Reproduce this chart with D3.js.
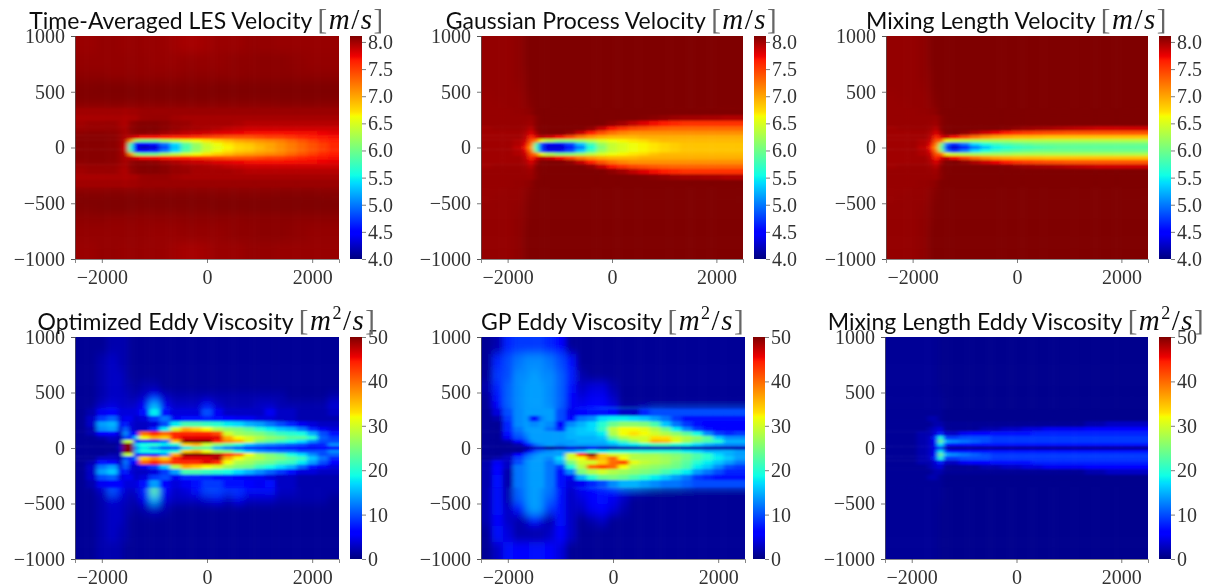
<!DOCTYPE html>
<html>
<head>
<meta charset="utf-8">
<script src="https://cdn.jsdelivr.net/npm/d3@7"></script>
<style>
    body { margin: 0; background: #fff; }
    svg { display: block; }
</style>
</head>
<body>
<div id="wrapper"></div>
<script>
// grid edges in data units, outer edges run past the axes and get clipped
const xEdges = [-2800,-2300,-2100,-1900,-1700,-1600,-1500,-1400,-1300,-1100,-900,-700,-500,-300,-100,100,300,500,700,900,1100,1300,1500,1700,1900,2100,2300,2800];
const yEdgesTop = [1300,850,700,600,500,420,350,290,240,190,150,110,75,45,15];
const yEdges = yEdgesTop.concat(yEdgesTop.slice().reverse().map(d => -d));

const xTicks = [-2000, 0, 2000];
const yTicks = [1000, 500, 0, -500, -1000];
const velocityTicks = [4.0, 4.5, 5.0, 5.5, 6.0, 6.5, 7.0, 7.5, 8.0];
const viscosityTicks = [0, 10, 20, 30, 40, 50];

// upper half only, top row first, the last row is the centre line
const lesVelocity = [
[8.02,8.02,8.04,8.04,8.03,8.03,8.03,8.04,8.03,8.03,8.02,8.0,7.98,7.98,8.0,8.02,8.02,8.02,8.04,8.04,8.04,8.03,8.03,8.03,8.03,8.03,8.03],
[8.04,8.04,8.04,8.04,8.04,8.04,8.04,8.04,8.04,8.03,8.03,8.03,8.04,8.04,8.04,8.04,8.05,8.06,8.06,8.07,8.07,8.07,8.06,8.05,8.04,8.04,8.04],
[8.06,8.06,8.06,8.05,8.05,8.05,8.05,8.05,8.05,8.05,8.05,8.05,8.06,8.06,8.06,8.06,8.06,8.06,8.07,8.07,8.07,8.07,8.07,8.06,8.06,8.06,8.06],
[8.1,8.1,8.11,8.11,8.11,8.11,8.1,8.1,8.1,8.1,8.1,8.1,8.1,8.1,8.1,8.11,8.11,8.11,8.11,8.11,8.11,8.11,8.11,8.11,8.11,8.11,8.11],
[8.11,8.11,8.11,8.11,8.11,8.11,8.11,8.11,8.11,8.11,8.11,8.11,8.11,8.11,8.11,8.11,8.11,8.11,8.11,8.11,8.11,8.11,8.11,8.11,8.11,8.11,8.11],
[8.07,8.07,8.07,8.08,8.08,8.07,8.07,8.07,8.07,8.07,8.07,8.07,8.07,8.07,8.07,8.07,8.07,8.07,8.07,8.07,8.07,8.08,8.08,8.08,8.08,8.07,8.07],
[8.0,8.0,8.0,8.0,8.0,7.98,8.0,8.0,8.02,8.02,8.02,8.02,8.02,8.02,8.02,8.02,8.02,8.02,8.02,8.02,8.02,8.02,8.02,8.02,8.02,8.02,8.02],
[7.97,7.97,7.97,7.97,7.97,7.95,7.97,7.97,8.02,8.03,8.03,8.0,7.98,7.98,7.98,7.98,7.98,7.98,7.98,7.98,7.98,7.98,7.98,7.98,7.98,7.98,7.98],
[8.0,8.02,8.02,8.02,7.98,7.95,8.04,8.07,8.09,8.09,8.07,8.03,8.02,7.98,7.98,7.98,7.98,7.96,7.93,7.93,7.93,7.93,7.93,7.93,7.93,7.93,7.93],
[8.02,8.03,8.03,8.03,8.0,7.97,8.06,8.08,8.1,8.1,8.07,8.03,8.0,7.98,7.96,7.94,7.9,7.88,7.85,7.85,7.85,7.85,7.85,7.85,7.85,7.85,7.85],
[8.06,8.07,8.07,8.06,8.02,7.97,8.04,8.07,8.07,8.05,8.0,7.95,7.9,7.87,7.85,7.8,7.78,7.75,7.72,7.7,7.7,7.7,7.7,7.72,7.72,7.75,7.78],
[8.08,8.08,8.08,8.07,8.02,7.95,7.9,7.8,7.7,7.7,7.65,7.6,7.6,7.55,7.5,7.45,7.4,7.4,7.4,7.45,7.5,7.5,7.55,7.6,7.65,7.68,7.7],
[8.08,8.08,8.08,8.07,8.02,7.9,7.1,6.2,6.0,6.0,6.2,6.35,6.5,6.6,6.7,6.8,6.9,7.0,7.05,7.1,7.15,7.2,7.3,7.4,7.5,7.6,7.65],
[8.08,8.08,8.08,8.07,8.02,7.85,5.8,4.6,4.5,4.6,5.0,5.4,5.9,6.2,6.45,6.6,6.7,6.8,6.85,6.95,7.0,7.1,7.2,7.3,7.4,7.5,7.6],
[8.08,8.08,8.08,8.07,8.02,7.8,5.6,4.5,4.2,4.3,4.8,5.3,5.8,6.15,6.4,6.55,6.65,6.75,6.8,6.9,7.0,7.1,7.2,7.3,7.4,7.5,7.6]
];

const gpVelocity = [
[8.04,8.04,8.04,8.06,8.11,8.11,8.11,8.11,8.11,8.11,8.11,8.11,8.11,8.11,8.11,8.11,8.11,8.11,8.11,8.11,8.11,8.11,8.11,8.11,8.11,8.11,8.11],
[8.04,8.04,8.04,8.06,8.11,8.11,8.11,8.11,8.11,8.11,8.11,8.11,8.11,8.11,8.11,8.11,8.11,8.11,8.11,8.11,8.11,8.11,8.11,8.11,8.11,8.11,8.11],
[8.04,8.04,8.04,8.06,8.09,8.11,8.11,8.11,8.11,8.11,8.11,8.11,8.11,8.11,8.11,8.11,8.11,8.11,8.11,8.11,8.11,8.11,8.11,8.11,8.11,8.11,8.11],
[8.04,8.04,8.04,8.05,8.09,8.11,8.11,8.11,8.11,8.11,8.11,8.11,8.11,8.11,8.11,8.11,8.11,8.11,8.11,8.11,8.11,8.11,8.11,8.11,8.11,8.11,8.11],
[8.03,8.04,8.04,8.04,8.08,8.1,8.11,8.11,8.11,8.11,8.11,8.11,8.11,8.11,8.11,8.11,8.11,8.11,8.11,8.11,8.11,8.11,8.11,8.11,8.11,8.11,8.11],
[8.03,8.03,8.04,8.04,8.07,8.09,8.11,8.11,8.11,8.11,8.11,8.11,8.11,8.11,8.11,8.11,8.11,8.11,8.11,8.11,8.11,8.11,8.11,8.11,8.11,8.11,8.11],
[8.03,8.03,8.03,8.04,8.05,8.07,8.11,8.11,8.11,8.11,8.11,8.11,8.11,8.11,8.11,8.11,8.11,8.11,8.11,8.11,8.11,8.11,8.11,8.11,8.11,8.11,8.11],
[8.03,8.03,8.03,8.03,8.03,8.02,8.08,8.11,8.11,8.11,8.11,8.11,8.11,8.11,8.11,8.11,8.11,8.1,8.08,8.05,8.02,8.0,8.0,7.98,7.98,7.95,7.95],
[8.03,8.03,8.03,8.03,8.02,8.0,8.08,8.11,8.11,8.11,8.11,8.11,8.11,8.11,8.06,8.0,7.9,7.8,7.72,7.65,7.6,7.55,7.55,7.55,7.55,7.55,7.55],
[8.0,8.02,8.02,8.02,8.0,7.92,8.08,8.11,8.11,8.11,8.11,8.11,8.05,7.88,7.68,7.55,7.45,7.4,7.35,7.32,7.3,7.3,7.3,7.3,7.3,7.3,7.3],
[8.0,8.0,8.0,8.0,7.95,7.8,8.0,8.11,8.11,8.11,8.05,7.88,7.65,7.4,7.25,7.15,7.1,7.1,7.1,7.1,7.1,7.1,7.1,7.1,7.1,7.1,7.1],
[8.0,8.0,8.0,8.0,7.9,7.6,7.8,7.95,7.85,7.7,7.45,7.2,7.05,6.95,6.9,6.9,6.9,6.95,6.95,6.95,6.95,6.95,6.95,6.95,6.95,6.95,6.95],
[8.0,8.0,8.0,7.95,7.85,7.4,7.2,6.6,6.3,6.1,6.1,6.2,6.35,6.5,6.6,6.65,6.7,6.75,6.85,6.9,6.9,6.9,6.9,6.9,6.9,6.9,6.9],
[8.0,8.0,8.0,7.95,7.75,7.2,5.9,4.8,4.4,4.4,4.8,5.3,5.8,6.2,6.4,6.5,6.6,6.65,6.7,6.75,6.8,6.85,6.85,6.85,6.85,6.85,6.85],
[8.0,8.0,8.0,7.9,7.65,7.0,5.7,4.7,4.3,4.3,4.6,5.0,5.6,6.1,6.4,6.5,6.6,6.65,6.7,6.75,6.8,6.85,6.85,6.85,6.85,6.85,6.85]
];

const mixingVelocity = [
[8.04,8.04,8.04,8.06,8.11,8.11,8.11,8.11,8.11,8.11,8.11,8.11,8.11,8.11,8.11,8.11,8.11,8.11,8.11,8.11,8.11,8.11,8.11,8.11,8.11,8.11,8.11],
[8.04,8.04,8.04,8.06,8.11,8.11,8.11,8.11,8.11,8.11,8.11,8.11,8.11,8.11,8.11,8.11,8.11,8.11,8.11,8.11,8.11,8.11,8.11,8.11,8.11,8.11,8.11],
[8.04,8.04,8.04,8.06,8.09,8.11,8.11,8.11,8.11,8.11,8.11,8.11,8.11,8.11,8.11,8.11,8.11,8.11,8.11,8.11,8.11,8.11,8.11,8.11,8.11,8.11,8.11],
[8.04,8.04,8.04,8.05,8.09,8.11,8.11,8.11,8.11,8.11,8.11,8.11,8.11,8.11,8.11,8.11,8.11,8.11,8.11,8.11,8.11,8.11,8.11,8.11,8.11,8.11,8.11],
[8.03,8.04,8.04,8.04,8.08,8.1,8.11,8.11,8.11,8.11,8.11,8.11,8.11,8.11,8.11,8.11,8.11,8.11,8.11,8.11,8.11,8.11,8.11,8.11,8.11,8.11,8.11],
[8.03,8.03,8.04,8.04,8.07,8.09,8.11,8.11,8.11,8.11,8.11,8.11,8.11,8.11,8.11,8.11,8.11,8.11,8.11,8.11,8.11,8.11,8.11,8.11,8.11,8.11,8.11],
[8.03,8.03,8.03,8.04,8.05,8.07,8.11,8.11,8.11,8.11,8.11,8.11,8.11,8.11,8.11,8.11,8.11,8.11,8.11,8.11,8.11,8.11,8.11,8.11,8.11,8.11,8.11],
[8.03,8.03,8.03,8.03,8.03,8.02,8.08,8.11,8.11,8.11,8.11,8.11,8.11,8.11,8.11,8.11,8.11,8.11,8.11,8.11,8.11,8.11,8.11,8.11,8.11,8.11,8.11],
[8.03,8.03,8.03,8.03,8.02,8.0,8.08,8.11,8.11,8.11,8.11,8.11,8.11,8.11,8.11,8.11,8.11,8.11,8.11,8.11,8.11,8.11,8.11,8.11,8.11,8.11,8.11],
[8.0,8.02,8.02,8.02,8.0,7.92,8.08,8.11,8.11,8.11,8.11,8.11,8.11,8.09,8.05,8.02,8.0,7.98,7.95,7.92,7.9,7.88,7.85,7.85,7.85,7.85,7.85],
[8.0,8.0,8.0,8.0,7.95,7.8,8.0,8.11,8.11,8.05,7.95,7.85,7.75,7.65,7.55,7.5,7.45,7.42,7.4,7.38,7.38,7.38,7.38,7.38,7.38,7.38,7.38],
[8.0,8.0,8.0,8.0,7.9,7.6,7.8,7.9,7.7,7.45,7.25,7.1,7.0,6.95,6.9,6.9,6.88,6.85,6.85,6.85,6.85,6.85,6.85,6.85,6.85,6.85,6.85],
[8.0,8.0,8.0,7.95,7.85,7.4,7.3,6.6,6.4,6.3,6.25,6.25,6.25,6.25,6.3,6.3,6.3,6.3,6.3,6.3,6.3,6.3,6.3,6.3,6.3,6.3,6.3],
[8.0,8.0,8.0,7.95,7.75,7.2,6.1,5.0,4.7,5.0,5.4,5.6,5.75,5.85,5.9,5.95,6.0,6.0,6.0,6.0,6.0,6.0,6.0,6.0,6.0,6.0,6.0],
[8.0,8.0,8.0,7.9,7.65,7.0,5.9,4.7,4.3,4.6,5.0,5.3,5.5,5.6,5.7,5.75,5.8,5.85,5.9,5.9,5.9,5.9,5.9,5.9,5.9,5.9,5.9]
];

// full height, top row first
const optimizedViscosity = [
[1,1,1,2,2,2,1,1,1,1,1,1,1,1,1,1,1,1,1,1,1,1,1,1,1,1,1],
[1,1,2,3,2,2,1,1,1,1,1,1,1,1,1,1,1,1,1,1,1,1,1,1,1,1,1],
[1,1,2,3,3,2,1,1,1,1,1,1,1,1,1,1,1,1,1,1,1,1,1,1,1,1,1],
[1,1,2,3,3,2,2,1,2,2,1,1,1,1,1,1,1,1,1,1,1,1,1,1,1,1,1],
[1,1,2,3,3,3,2,2,3,6,3,2,2,2,2,2,2,2,2,2,2,2,1,1,1,1,2],
[1,1,3,4,3,3,3,3,6,15,5,3,3,3,6,3,2,2,2,3,3,2,2,2,2,2,4],
[1,2,5,6,4,4,4,4,7,18,7,4,4,4,10,5,3,3,3,3,5,3,3,2,2,2,3],
[1,3,9,11,4,5,5,3,4,9,12,5,7,7,8,7,6,5,5,4,4,3,3,2,2,2,2],
[1,3,14,15,5,8,4,3,3,4,10,18,22,22,21,20,18,17,15,14,12,10,8,5,4,3,3],
[1,2,13,14,4,11,4,3,3,8,18,30,36,34,32,28,26,25,23,20,18,16,15,12,8,5,4],
[1,2,6,6,3,13,6,6,40,44,40,44,44,44,44,42,30,27,26,25,23,21,20,19,15,10,7],
[1,1,2,3,2,10,7,16,32,36,34,44,46,46,46,46,36,32,30,28,26,25,23,23,20,11,9],
[1,1,1,2,2,28,30,7,6,6,12,34,50,50,50,44,38,36,30,25,23,21,19,17,13,10,10],
[1,1,1,1,2,50,50,16,19,20,18,20,34,36,30,26,23,20,16,14,13,12,11,10,8,8,13],
[1,1,1,1,3,50,50,12,18,14,10,10,18,23,23,15,12,10,8,8,7,7,6,6,5,6,6],
[1,1,1,1,2,50,50,15,19,19,18,20,34,36,32,27,25,20,16,14,13,12,12,10,10,10,13],
[1,1,1,2,2,28,30,8,6,7,13,36,50,50,50,48,44,40,32,27,25,23,19,17,13,10,11],
[1,1,3,3,2,10,7,12,34,38,34,44,46,46,46,48,36,32,29,28,26,25,23,21,16,12,8],
[1,2,7,6,3,12,6,6,40,44,40,44,44,44,46,44,32,28,27,25,24,22,21,18,14,10,6],
[1,3,12,14,4,11,4,3,5,9,16,28,36,34,32,30,27,25,24,21,19,17,15,11,7,5,4],
[1,3,14,16,5,8,4,3,3,4,9,14,22,22,21,20,19,17,15,13,11,9,7,4,4,3,3],
[1,3,10,11,4,5,5,3,4,9,10,5,8,8,8,7,7,6,5,5,4,3,3,2,2,2,2],
[1,2,5,6,6,4,4,4,7,14,6,4,5,7,9,9,7,7,6,5,7,3,3,2,2,2,2],
[1,1,3,11,7,3,3,3,8,24,6,3,4,7,10,10,9,9,7,7,7,3,3,2,2,2,2],
[1,1,2,4,3,3,2,2,5,15,4,3,3,3,4,5,3,5,3,3,3,2,2,2,2,2,1],
[1,1,2,3,3,2,2,1,2,3,2,1,1,1,1,1,1,1,1,1,1,1,1,1,1,1,1],
[1,1,2,3,3,2,1,1,1,1,1,1,1,1,1,1,1,1,1,1,1,1,1,1,1,1,1],
[1,1,2,3,2,2,1,1,1,1,1,1,1,1,1,1,1,1,1,1,1,1,1,1,1,1,1],
[1,1,2,2,2,1,1,1,1,1,1,1,1,1,1,1,1,1,1,1,1,1,1,1,1,1,1]
];

const gpViscosity = [
[1,2,8,9,9,9,9,9,8,6,1,1,1,1,1,1,1,1,1,1,1,1,1,1,1,1,1],
[1,8,10,12,13,13,13,13,12,10,7,1,1,1,1,1,1,1,1,1,1,1,1,1,1,1,1],
[1,9,10,13,13,14,14,13,13,11,8,2,1,1,1,1,1,1,1,1,1,1,1,1,1,1,1],
[2,8,11,13,14,14,14,14,13,11,7,3,4,4,2,1,1,1,1,1,1,1,1,1,1,1,1],
[1,7,11,13,14,14,14,14,13,11,6,4,5,5,3,1,1,1,1,1,1,1,1,1,1,1,1],
[1,6,11,13,14,14,14,14,13,11,5,5,6,6,4,1,1,1,1,1,1,1,1,1,1,1,1],
[1,4,10,13,14,14,14,14,14,10,5,6,7,7,6,3,3,8,10,10,10,10,10,10,10,10,10],
[1,2,9,13,14,7,7,13,14,10,6,12,13,17,18,18,17,16,14,12,9,7,7,7,7,7,7],
[1,1,8,13,14,13,13,14,13,6,13,15,17,20,24,26,26,25,22,16,12,9,7,6,6,6,6],
[1,1,8,12,14,14,14,14,12,8,15,16,17,21,29,32,32,31,28,24,18,13,9,7,6,6,6],
[1,1,7,11,13,14,14,14,14,14,15,16,16,18,28,32,33,32,30,28,26,23,19,13,9,8,9],
[1,1,5,10,12,14,14,14,14,14,15,15,15,16,24,28,30,30,33,33,30,28,26,23,16,13,13],
[1,1,2,6,10,13,14,14,14,14,14,15,15,15,18,22,26,30,36,35,31,27,24,22,20,15,15],
[1,1,1,2,6,9,12,13,14,13,14,14,14,14,15,17,18,20,22,22,20,19,17,15,14,13,13],
[1,1,1,1,1,2,3,3,1,2,4,3,5,3,2,2,2,2,2,2,2,2,2,2,2,2,2],
[1,1,1,1,4,8,11,12,13,14,14,16,20,18,20,20,20,20,20,20,20,18,17,15,15,15,14],
[1,1,2,6,10,12,13,14,14,14,30,44,50,34,30,30,28,27,27,26,25,24,22,20,17,15,14],
[1,2,3,9,12,13,14,14,13,17,30,32,40,35,40,32,28,28,28,27,26,24,22,20,18,16,14],
[2,5,3,10,13,14,14,14,12,15,25,30,30,34,40,42,31,29,28,27,25,23,20,18,16,14,12],
[2,6,3,12,13,14,14,14,12,9,20,28,40,42,40,32,28,27,26,25,24,22,18,16,13,10,9],
[2,6,2,12,13,14,14,14,12,7,13,25,28,30,28,27,26,25,24,22,20,18,14,12,10,8,8],
[2,7,2,12,13,14,14,14,12,7,5,15,20,24,25,24,22,20,18,16,14,12,9,8,7,7,7],
[2,7,2,12,13,14,14,14,12,7,4,5,8,10,13,15,15,14,13,12,12,11,10,10,10,10,10],
[2,7,2,11,13,14,14,13,12,7,3,5,6,7,6,4,3,2,1,1,1,1,1,1,1,1,1],
[2,7,2,11,13,14,14,13,11,7,3,4,6,7,5,3,1,1,1,1,1,1,1,1,1,1,1],
[2,7,3,7,12,14,14,13,9,7,3,3,5,6,4,2,1,1,1,1,1,1,1,1,1,1,1],
[2,6,3,2,3,7,7,4,2,7,3,1,2,3,1,1,1,1,1,1,1,1,1,1,1,1,1],
[1,7,4,2,2,2,2,2,3,6,3,1,1,1,1,1,1,1,1,1,1,1,1,1,1,1,1],
[1,3,7,6,6,7,7,7,6,4,1,1,1,1,1,1,1,1,1,1,1,1,1,1,1,1,1]
];

// upper half only
const mixingViscosity = [
[1,1,1,1,1,1,0.6,0.6,0.6,0.6,0.6,0.6,0.6,0.6,0.6,0.6,0.6,0.6,0.6,0.6,0.6,0.6,0.6,0.6,0.6,0.6,0.6],
[1,1,1,1,1,1,0.6,0.6,0.6,0.6,0.6,0.6,0.6,0.6,0.6,0.6,0.6,0.6,0.6,0.6,0.6,0.6,0.6,0.6,0.6,0.6,0.6],
[1,1,1,1,1,1,0.6,0.6,0.6,0.6,0.6,0.6,0.6,0.6,0.6,0.6,0.6,0.6,0.6,0.6,0.6,0.6,0.6,0.6,0.6,0.6,0.6],
[1,1,1,1,1,1,0.6,0.6,0.6,0.6,0.6,0.6,0.6,0.6,0.6,0.6,0.6,0.6,0.6,0.6,0.6,0.6,0.6,0.6,0.6,0.6,0.6],
[1,1,1,1,1,1,1,0.6,0.6,0.6,0.6,0.6,0.6,0.6,0.6,0.6,0.6,0.6,0.6,0.6,0.6,0.6,0.6,0.6,0.6,0.6,0.6],
[1,1,1,1,1,1,1,0.6,0.6,0.6,0.6,0.6,0.6,0.6,0.6,0.6,0.6,0.6,0.6,0.6,0.6,0.6,0.6,0.6,0.6,0.6,0.6],
[1,1,1,1,1,1,1,0.6,0.6,0.6,0.6,0.6,0.6,0.6,0.6,0.6,0.6,0.6,0.6,0.6,0.6,0.6,0.6,0.6,0.6,0.6,0.6],
[1,1,1,1,2,2,1,0.6,0.6,0.6,0.6,0.6,0.6,0.6,0.6,0.6,0.6,0.6,0.6,0.6,0.6,0.6,0.6,0.6,0.6,0.6,0.6],
[1,1,1,1,1,2,2,1,1,1,1,1,1,1,1,1,1,1,1,1,1,2,2,3,3,3,3],
[1,1,1,1,2,3,4,1,1,1,1,2,2,3,3,4,4,5,5,5,5,6,6,6,6,6,6],
[1,1,1,2,2,4,8,3,3,5,6,6,7,7,7,7,8,8,8,8,8,8,8,8,8,8,8],
[1,1,1,2,3,8,20,9,9,10,10,10,9,9,9,9,9,9,9,9,9,9,9,9,9,9,9],
[1,1,1,2,3,7,24,15,13,12,11,10,9,9,9,9,9,9,9,9,9,9,9,9,9,9,9],
[1,1,1,2,3,5,18,8,7,7,7,7,7,7,7,7,7,7,7,7,7,7,7,7,7,7,7],
[1,1,1,2,3,5,10,2,1,1,1,1,1,1,1,1,1,1,1,1,1,1,1,1,1,1,1]
];

const mirrored = rows => rows.concat(rows.slice(0, -1).reverse());

const jetStops = [0, 0.11, 0.125, 0.34, 0.35, 0.375, 0.64, 0.65, 0.66, 0.89, 0.91, 1];
const jetColors = ["#00007f","#0000ff","#0000ff","#00dbff","#00e5f7","#0fffe7","#f4ff02","#ffef00","#ffe000","#ff1c00","#ee0000","#7f0000"];
const jet = d3.scaleLinear().domain(jetStops).range(jetColors).clamp(true);

const velocityDomain = [4, 8.11];
const viscosityDomain = [0, 50];

const panels = [
    {name: "Time-Averaged LES Velocity", unit: "m/s", rows: mirrored(lesVelocity), left: 75, right: 339, bar: 350, top: 36, bottom: 259, domain: velocityDomain, ticks: velocityTicks},
    {name: "Gaussian Process Velocity", unit: "m/s", rows: mirrored(gpVelocity), left: 481, right: 743, bar: 754, top: 36, bottom: 259, domain: velocityDomain, ticks: velocityTicks},
    {name: "Mixing Length Velocity", unit: "m/s", rows: mirrored(mixingVelocity), left: 886, right: 1148, bar: 1159, top: 36, bottom: 259, domain: velocityDomain, ticks: velocityTicks},
    {name: "Optimized Eddy Viscosity", unit: "m2/s", rows: optimizedViscosity, left: 75, right: 339, bar: 350, top: 337, bottom: 559, domain: viscosityDomain, ticks: viscosityTicks},
    {name: "GP Eddy Viscosity", unit: "m2/s", rows: gpViscosity, left: 481, right: 745, bar: 753, top: 337, bottom: 559, domain: viscosityDomain, ticks: viscosityTicks},
    {name: "Mixing Length Eddy Viscosity", unit: "m2/s", rows: mirrored(mixingViscosity), left: 885, right: 1148, bar: 1159, top: 337, bottom: 559, domain: viscosityDomain, ticks: viscosityTicks}
];

const wrapper = d3.select("#wrapper").append("svg")
    .attr("width", 1210)
    .attr("height", 587);

const defs = wrapper.append("defs");
const addBlur = (id, amount) => defs.append("filter").attr("id", id)
    .attr("filterUnits", "userSpaceOnUse")
    .attr("x", -100).attr("y", -100).attr("width", 1500).attr("height", 800)
    .append("feGaussianBlur").attr("stdDeviation", amount);
addBlur("softOuter", "3 5");  // far field has big cells
addBlur("softInner", "2 1.3");
addBlur("softText", 0.35);

const barGradient = defs.append("linearGradient").attr("id", "jetBar")
    .attr("x1", 0).attr("y1", 1).attr("x2", 0).attr("y2", 0);
barGradient.selectAll("stop").data(jetStops).enter().append("stop")
    .attr("offset", d => d)
    .attr("stop-color", (d, i) => jetColors[i]);

const fmtMinus = d => String(d).replace("-", "\u2212");

panels.forEach((panel, index) => {
    const xScale = d3.scaleLinear().domain([-2510, 2510]).range([panel.left, panel.right]);
    const yScale = d3.scaleLinear().domain([-1000, 1000]).range([panel.bottom, panel.top]);
    const colorScale = d3.scaleLinear().domain(panel.domain).range([0, 1]);
    const barWidth = 12;

    const g = wrapper.append("g");

    defs.append("clipPath").attr("id", `clip${index}`)
        .append("rect")
        .attr("x", panel.left).attr("y", panel.top)
        .attr("width", panel.right - panel.left)
        .attr("height", panel.bottom - panel.top);

    const cells = panel.rows.flatMap((row, r) => row.map((value, c) => ({r, c, value})));
    const clipped = g.append("g").attr("clip-path", `url(#clip${index})`);

    const drawCells = (layer, data) => layer.selectAll("rect")
        .data(data)
        .enter()
        .append("rect")
        .attr("x", d => xScale(xEdges[d.c]))
        .attr("y", d => yScale(yEdges[d.r]))
        .attr("width", d => xScale(xEdges[d.c + 1]) - xScale(xEdges[d.c]) + 0.5)
        .attr("height", d => yScale(yEdges[d.r + 1]) - yScale(yEdges[d.r]) + 0.5)
        .attr("fill", d => jet(colorScale(d.value)));

    // outer rows get the wider blur, the near-wake rows sit on top of them
    drawCells(clipped.append("g").attr("filter", "url(#softOuter)"), cells.filter(d => d.r <= 8 || d.r >= 20));
    drawCells(clipped.append("g").attr("filter", "url(#softInner)"), cells.filter(d => d.r >= 6 && d.r <= 22));

    const xAxis = d3.axisBottom(xScale).tickValues(xTicks).tickSize(4).tickPadding(7).tickFormat(fmtMinus);
    const yAxis = d3.axisLeft(yScale).tickValues(yTicks).tickSize(4).tickPadding(6).tickFormat(fmtMinus);

    const labels = g.append("g").attr("filter", "url(#softText)");
    const axisX = labels.append("g").attr("transform", `translate(0,${panel.bottom})`).call(xAxis);
    const axisY = labels.append("g").attr("transform", `translate(${panel.left},0)`).call(yAxis);

    // colour bar with its own axis on the right
    const barScale = d3.scaleLinear().domain(panel.domain).range([panel.bottom, panel.top]);
    g.append("rect")
        .attr("x", panel.bar).attr("y", panel.top)
        .attr("width", barWidth).attr("height", panel.bottom - panel.top)
        .attr("fill", "url(#jetBar)");
    const barAxis = d3.axisRight(barScale).tickValues(panel.ticks).tickSize(4).tickPadding(2)
        .tickFormat(panel.domain[1] > 10 ? d3.format("d") : d3.format(".1f"));
    const axisBar = labels.append("g").attr("transform", `translate(${panel.bar + barWidth},0)`).call(barAxis);
    axisBar.select(".domain").remove();

    [axisX, axisY, axisBar].forEach(axis => {
        axis.selectAll("text")
            .style("font-family", "'Liberation Serif'")
            .style("font-size", "20px")
            .attr("fill", "#333");
        axis.selectAll("line").attr("stroke", "#444").attr("stroke-width", 0.7);
        axis.select(".domain").attr("stroke", "#555").attr("stroke-width", 0.7);
    });

    // title, the unit is set as math: serif italic
    const title = labels.append("text")
        .attr("x", (panel.left + panel.right) / 2)
        .attr("y", panel.top - 7)
        .attr("text-anchor", "middle")
        .style("font-family", "Lato")
        .style("font-size", "23px")
        .attr("fill", "#111");
    title.append("tspan").text(panel.name + " ");
    const math = s => title.append("tspan")
        .style("font-family", "'Liberation Serif'")
        .style("font-size", "29px")
        .style("letter-spacing", "1.5px");
    math().attr("fill", "#666").text("[");
    math().style("font-style", "italic").text("m");
    if (panel.unit === "m2/s") {
        math().style("font-size", "18px").attr("dy", -11).text("2");
        math().attr("dy", 11).text("/");
    } else {
        math().text("/");
    }
    math().style("font-style", "italic").text("s");
    math().attr("fill", "#666").text("]");
});
</script>
</body>
</html>
